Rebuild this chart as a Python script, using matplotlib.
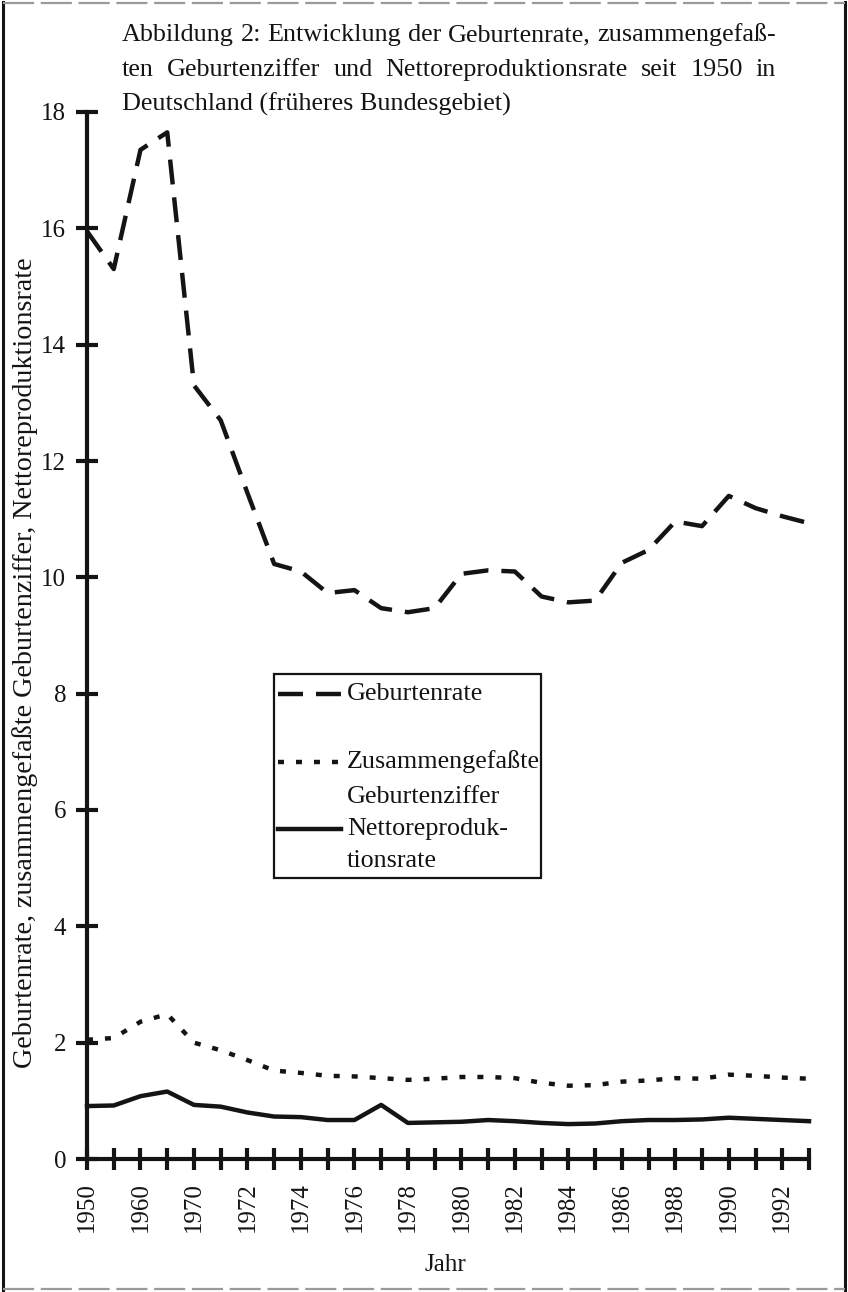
import matplotlib
matplotlib.use('Agg')
import matplotlib.pyplot as plt
from matplotlib.lines import Line2D
from matplotlib.patches import Rectangle

# ---------------- data ----------------
years = [1950, 1955, 1960, 1965, 1970, 1971, 1972, 1973, 1974, 1975, 1976, 1977,
         1978, 1979, 1980, 1981, 1982, 1983, 1984, 1985, 1986, 1987, 1988, 1989,
         1990, 1991, 1992, 1993]
geburtenrate = [15.95, 15.30, 17.35, 17.65, 13.30, 12.70, 11.45, 10.23, 10.10, 9.73,
                9.78, 9.47, 9.40, 9.47, 10.06, 10.12, 10.10, 9.67, 9.57, 9.60,
                10.25, 10.47, 10.96, 10.88, 11.40, 11.19, 11.05, 10.93]
geburtenziffer = [2.05, 2.08, 2.36, 2.49, 2.00, 1.87, 1.70, 1.52, 1.48, 1.43,
                  1.42, 1.39, 1.36, 1.38, 1.41, 1.41, 1.39, 1.31, 1.26, 1.27,
                  1.33, 1.35, 1.39, 1.38, 1.45, 1.43, 1.40, 1.38]
nettorepro = [0.91, 0.92, 1.08, 1.16, 0.93, 0.90, 0.80, 0.73, 0.72, 0.67,
              0.67, 0.93, 0.62, 0.63, 0.64, 0.67, 0.65, 0.62, 0.60, 0.61,
              0.65, 0.67, 0.67, 0.68, 0.71, 0.69, 0.67, 0.65]
yticks = [0, 2, 4, 6, 8, 10, 12, 14, 16, 18]
title_lines = ["Abbildung 2: Entwicklung der Geburtenrate, zusammengefaß-",
               "ten Geburtenziffer und Nettoreproduktionsrate seit 1950 in",
               "Deutschland (früheres Bundesgebiet)"]
legend_labels = [["Geburtenrate"],
                 ["Zusammengefaßte", "Geburtenziffer"],
                 ["Nettoreproduk-", "tionsrate"]]
ylabel = "Geburtenrate, zusammengefaßte Geburtenziffer, Nettoreproduktionsrate"
xlabel = "Jahr"

# ---------------- figure ----------------
W, H = 848, 1292
INK = '#141414'
plt.rcParams['font.family'] = ['Liberation Serif', 'DejaVu Serif']
fig = plt.figure(figsize=(W / 100, H / 100), dpi=100)
fig.patch.set_facecolor('white')

def fx(x):
    return x / W

def fy(y):
    return 1 - y / H

ax_l, ax_r, ax_t, ax_b = 87, 809, 112, 1159
ax = fig.add_axes([fx(ax_l), fy(ax_b), (ax_r - ax_l) / W, (ax_b - ax_t) / H])
ax.set_facecolor('none')

xpos = list(range(len(years)))
LW = 3.2
dash_style = (0, (25 / 1.39 / LW, 13 / 1.39 / LW))
dot_style = (0, (6 / 1.39 / LW, 12 / 1.39 / LW))

ax.plot(xpos, geburtenrate, color=INK, lw=LW, linestyle=dash_style,
        dash_capstyle='butt', clip_on=False)
ax.plot(xpos, geburtenziffer, color=INK, lw=LW, linestyle=dot_style,
        dash_capstyle='butt', clip_on=False)
ax.plot(xpos, nettorepro, color=INK, lw=LW, solid_joinstyle='round',
        clip_on=False)

ax.set_xlim(0, len(years) - 1)
ax.set_ylim(0, 18)
for s in ['top', 'right']:
    ax.spines[s].set_visible(False)
for s in ['left', 'bottom']:
    ax.spines[s].set_linewidth(3.0)
    ax.spines[s].set_color(INK)

ax.set_yticks(yticks)
ax.set_yticklabels([str(v) for v in yticks])
ax.set_xticks(xpos)
ax.set_xticklabels([str(y) if i % 2 == 0 else '' for i, y in enumerate(years)],
                   rotation=90)
ax.tick_params(axis='both', direction='inout', length=16, width=3.0,
               colors=INK, labelsize=18, labelcolor=INK)
ax.tick_params(axis='y', pad=7)
ax.tick_params(axis='x', pad=9)

fig.canvas.draw()
renderer = fig.canvas.get_renderer()

def width_of(t):
    return t.get_window_extent(renderer).width

def fit_size(text, target, base=18, **kw):
    t = fig.text(0, 0, text, fontsize=base, **kw)
    w = width_of(t)
    t.remove()
    return base * target / w

# ---------------- title (justified) ----------------
tl, tr = 122, 776
tsize = fit_size(title_lines[0], tr - tl)
title_y = [35, 70, 104]
for i, line in enumerate(title_lines):
    if i < 2:
        words = line.split(' ')
        ts = [fig.text(0, fy(title_y[i]), w, fontsize=tsize, va='center',
                       ha='left', color=INK) for w in words]
        widths = [width_of(t) for t in ts]
        gap = (tr - tl - sum(widths)) / (len(words) - 1)
        x = tl
        for t, wd in zip(ts, widths):
            t.set_x(fx(x))
            x += wd + gap
    else:
        fig.text(fx(tl), fy(title_y[i]), line, fontsize=tsize, va='center',
                 ha='left', color=INK)

# ---------------- axis labels ----------------
ysize = fit_size(ylabel, 813)
fig.text(fx(25), fy(663), ylabel, rotation=90, fontsize=ysize, ha='center',
         va='center', color=INK)
fig.text(fx(445), fy(1265), xlabel, fontsize=18, ha='center', va='center',
         color=INK)

# ---------------- legend (manual) ----------------
lsize = tsize
box_right = 541
fig.patches.append(Rectangle((fx(274), fy(878)), (box_right - 274) / W, (878 - 674) / H,
                             transform=fig.transFigure, fill=False, lw=1.6,
                             edgecolor=INK))
handle_y = [694, 762, 829]
line2_y = [None, 797, 861]
styles = [dict(linestyle=dash_style, dash_capstyle='butt'),
          dict(linestyle=dot_style, dash_capstyle='butt'),
          dict(linestyle='-')]
for i, lab in enumerate(legend_labels):
    fig.add_artist(Line2D([fx(278), fx(341)], [fy(handle_y[i])] * 2,
                          transform=fig.transFigure, color=INK, lw=LW,
                          **styles[i]))
    fig.text(fx(347), fy(handle_y[i]), lab[0], fontsize=lsize, va='center',
             ha='left', color=INK)
    if len(lab) > 1:
        fig.text(fx(347), fy(line2_y[i]), lab[1], fontsize=lsize, va='center',
                 ha='left', color=INK)

# ---------------- outer frame ----------------
fig.add_artist(Line2D([fx(3), fx(3)], [fy(2), fy(1290)], transform=fig.transFigure,
                      color=INK, lw=2.2))
fig.add_artist(Line2D([fx(845), fx(845)], [fy(2), fy(1290)], transform=fig.transFigure,
                      color=INK, lw=2.2))
fig.add_artist(Line2D([fx(3), fx(845)], [fy(3), fy(3)], transform=fig.transFigure,
                      color='#9a9a9a', lw=1.6, linestyle=(0, (14, 3))))
fig.add_artist(Line2D([fx(3), fx(845)], [fy(1289), fy(1289)], transform=fig.transFigure,
                      color='#9a9a9a', lw=1.6, linestyle=(0, (14, 3))))

fig.savefig('out.png', dpi=100, facecolor='white')
